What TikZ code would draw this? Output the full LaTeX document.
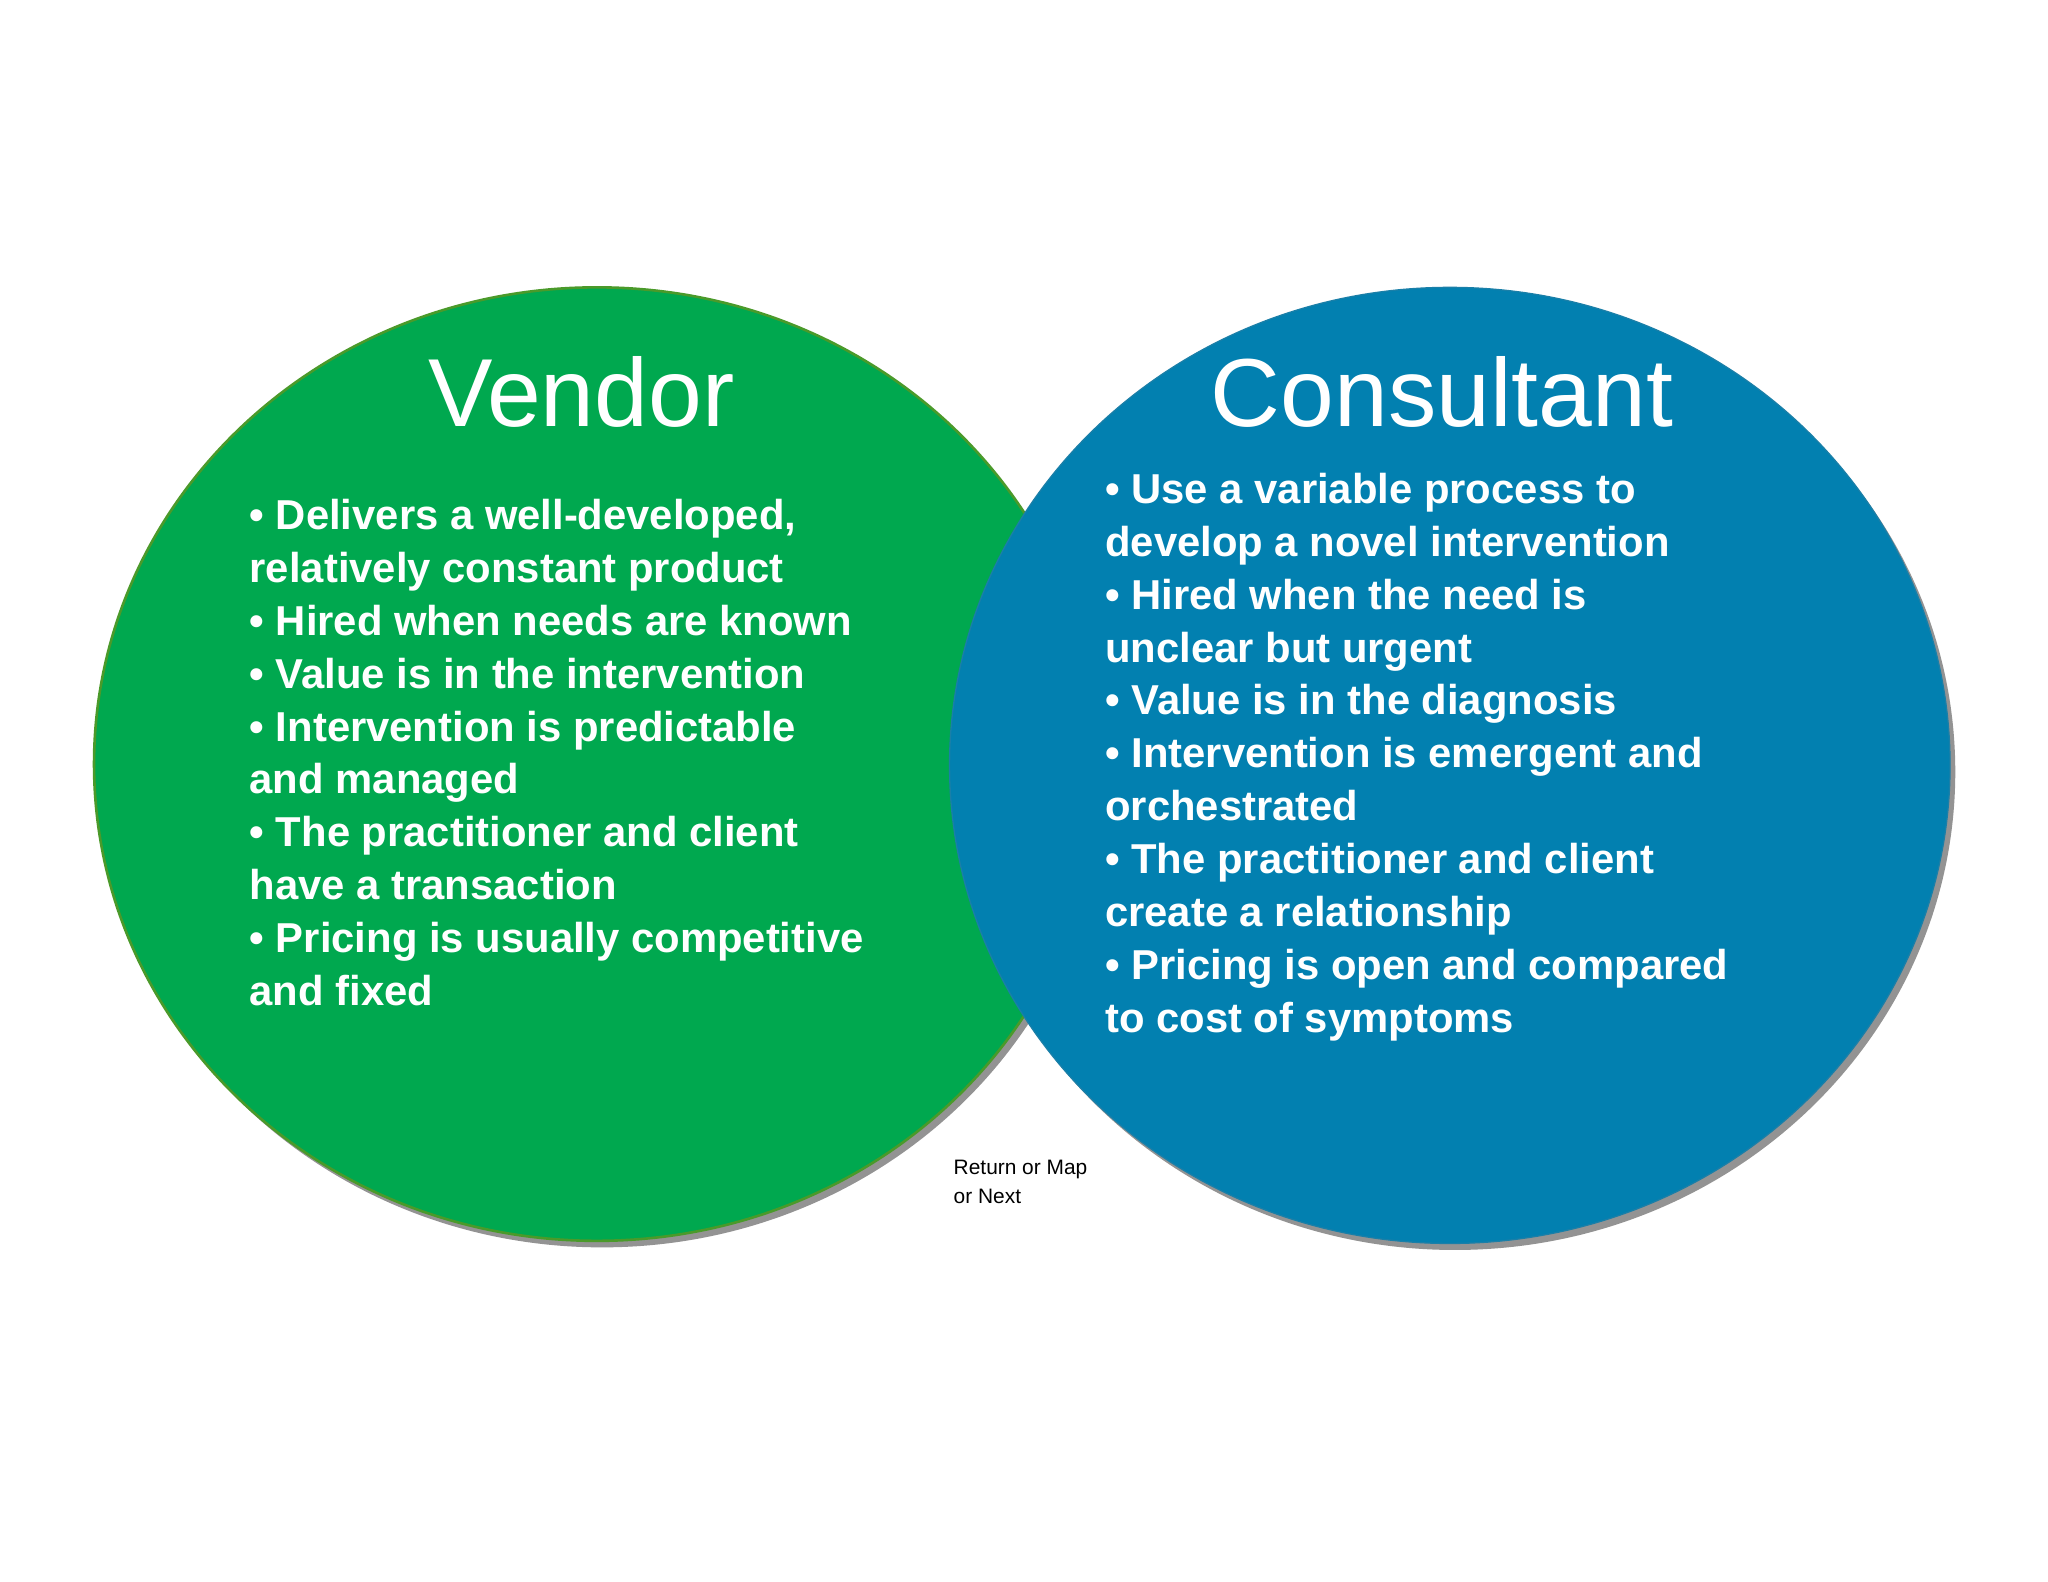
\documentclass[tikz,border=0pt]{standalone}
\usepackage{fontspec}
\setmainfont{Liberation Sans}
\definecolor{vgreen}{HTML}{00A84F}
\definecolor{vedge}{HTML}{4A9A2A}
\definecolor{cblue}{HTML}{0280B0}
\definecolor{cedge}{HTML}{1A7FA8}
\begin{document}
\begin{tikzpicture}[x=1pt,y=-1pt,
  bul/.style={anchor=north west,align=left,text=white,font=\fontsize{32}{40.5}\selectfont\bfseries,inner sep=0pt},
  ttl/.style={text=white,font=\fontsize{74}{80}\selectfont,inner sep=0pt}]
\useasboundingbox (0,0) rectangle (1568,1211);
\fill[white] (0,0) rectangle (1568,1211);
% shadows
\fill[gray!85] (461,590) ellipse [x radius=385,y radius=365];
\fill[gray!85] (1114,591) ellipse [x radius=383,y radius=366];
\filldraw[fill=vgreen,draw=vedge,line width=2pt] (457,585) ellipse [x radius=385,y radius=365];
\filldraw[fill=cblue,draw=cedge,line width=1pt] (1110,586) ellipse [x radius=383,y radius=366];
\node[ttl] (vt) at (445,300) {Vendor};
\node[ttl] (ct) at (1104,300) {Consultant};
\node[bul] (vl) at (191,382) {• Delivers a well-developed,\\relatively constant product\\• Hired when needs are known\\• Value is in the intervention\\• Intervention is predictable\\and managed\\• The practitioner and client\\have a transaction\\• Pricing is usually competitive\\and fixed};
\node[bul] (cl) at (846,362) {• Use a variable process to\\develop a novel intervention\\• Hired when the need is\\unclear but urgent\\• Value is in the diagnosis\\• Intervention is emergent and\\orchestrated\\• The practitioner and client\\create a relationship\\• Pricing is open and compared\\to cost of symptoms};
\node[anchor=north west,align=left,inner sep=0pt,font=\fontsize{16}{22}\selectfont] (nav) at (730,888) {Return or Map\\or Next};
\end{tikzpicture}
\end{document}
